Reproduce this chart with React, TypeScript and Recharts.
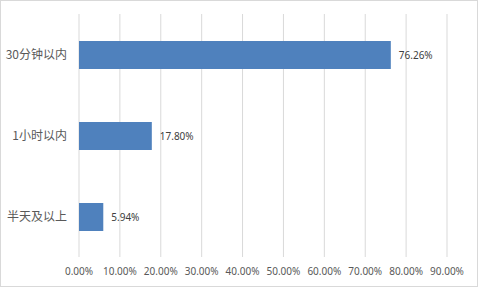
import { Bar, BarChart, CartesianGrid, LabelList, XAxis, YAxis } from "recharts";

const categories = ["30分钟以内", "1小时以内", "半天及以上"];
const shares = [0.7626, 0.178, 0.0594];
const xTicks = [0, 0.1, 0.2, 0.3, 0.4, 0.5, 0.6, 0.7, 0.8, 0.9];

const data = categories.map((name, i) => ({ name, value: shares[i] }));

const pct = (v: number) => `${(v * 100).toFixed(2)}%`;

export default function App() {
  return (
    <div style={{ position: "absolute", left: 0, top: 0, width: 480, height: 288, background: "#fff" }}>
      <style>{`body{margin:0}`}</style>
      <div
        style={{
          position: "absolute",
          left: 0,
          top: 0,
          width: 478,
          height: 287,
          boxSizing: "border-box",
          border: "1px solid #d9d9d9"
        }}
      />
      <div style={{ position: "absolute", left: 0, top: 0 }}>
        <BarChart
          width={480}
          height={288}
          data={data}
          layout="vertical"
          margin={{ top: 14, right: 33, bottom: 0, left: 0 }}
        >
          <CartesianGrid horizontal={false} stroke="#d9d9d9" />
          <XAxis
            type="number"
            domain={[0, 0.9]}
            ticks={xTicks}
            tickFormatter={pct}
            axisLine={false}
            tickLine={false}
            tickSize={0}
            tickMargin={11}
            height={31}
            interval={0}
            tick={{ fill: "#595959", fontSize: 10, fontFamily: "'Noto Sans', 'Noto Sans CJK SC'" }}
          />
          <YAxis
            type="category"
            dataKey="name"
            width={79}
            axisLine={false}
            tickLine={false}
            tickSize={0}
            tickMargin={12}
            tick={{ fill: "#595959", fontSize: 12, fontFamily: "'Noto Sans CJK SC'" }}
          />
          <Bar dataKey="value" fill="#4f81bd" barSize={28} isAnimationActive={false}>
            <LabelList
              dataKey="value"
              position="right"
              offset={8}
              formatter={(v: any) => pct(Number(v))}
              style={{ fill: "#404040", fontSize: 10, fontFamily: "'Noto Sans', 'Noto Sans CJK SC'" }}
            />
          </Bar>
        </BarChart>
      </div>
    </div>
  );
}
